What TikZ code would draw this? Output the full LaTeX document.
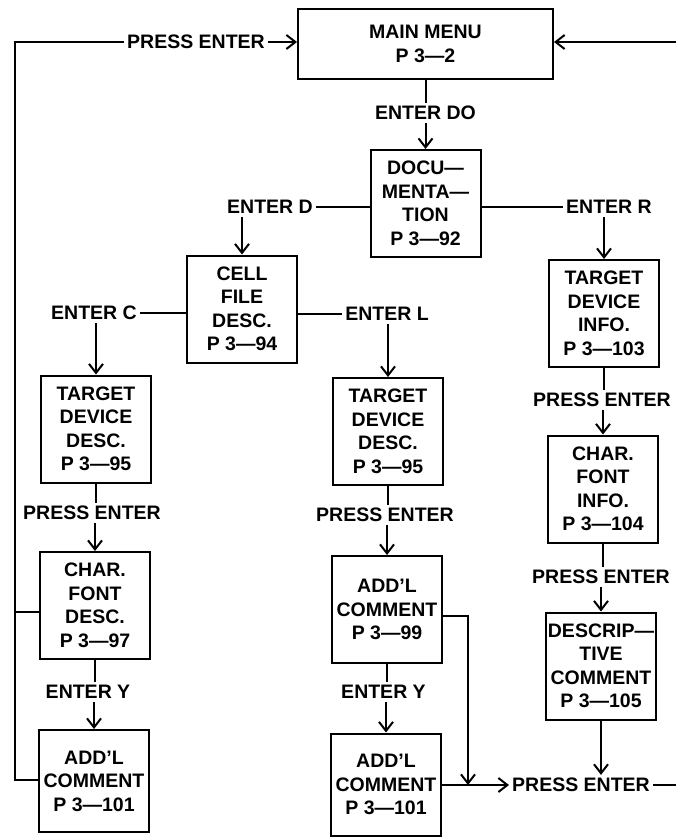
\documentclass[tikz,border=0pt]{standalone}
\usepackage{fontspec}
\setmainfont{Liberation Sans}
\usetikzlibrary{arrows.meta,positioning}
\newcommand\flfont{\bfseries\fontsize{19.5}{23.5}\selectfont}
\tikzset{
  fl box/.style={
    draw,
    line width=2pt,
    align=center,
    font=\flfont,
    minimum width=110pt,
    minimum height=107pt,
    inner sep=1pt
  },
  fl short/.style={fl box, minimum height=102pt},
  fl label/.style={font=\flfont, inner sep=3pt},
  fl line/.style={line width=2pt},
  fl arrow/.style={
    fl line,
    -{Straight Barb[length=9pt,width=14pt]}
  }
}

\begin{document}
\begin{tikzpicture}[x=1pt,y=-1pt]
  \useasboundingbox (0,0) rectangle (676,837);
  \coordinate (lt) at (15,42);
  \coordinate (lm) at (15,612);
  \coordinate (lb) at (15,780);
  \coordinate (rt) at (676,42);
  \coordinate (rb) at (676,785);
  \coordinate (jt) at (468,616);
  \coordinate (jn) at (468,785);

  % boxes
  \node[fl box, minimum width=255pt, minimum height=70pt] (menu) at (425.5,44) {MAIN MENU\\P 3---2};
  \node[fl box] (doc) at (425.5,203.5) {DOCU---\\MENTA---\\TION\\P 3---92};
  \node[fl box] (cell) at (242,309) {CELL\\FILE\\DESC.\\P 3---94};
  \node[fl box] (tddc) at (96,429) {TARGET\\DEVICE\\DESC.\\P 3---95};
  \node[fl box] (cfd) at (95,605.5) {CHAR.\\FONT\\DESC.\\P 3---97};
  \node[fl short] (addc) at (94,781) {ADD'L\\COMMENT\\P 3---101};
  \node[fl box] (tddl) at (388,431.5) {TARGET\\DEVICE\\DESC.\\P 3---95};
  \node[fl box] (addl) at (387,609.5) {ADD'L\\COMMENT\\P 3---99};
  \node[fl short] (addy) at (386,784.5) {ADD'L\\COMMENT\\P 3---101};
  \node[fl box] (tdi) at (604,313.5) {TARGET\\DEVICE\\INFO.\\P 3---103};
  \node[fl box] (cfi) at (603,489) {CHAR.\\FONT\\INFO.\\P 3---104};
  \node[fl box] (desc) at (601,666) {DESCRIP---\\TIVE\\COMMENT\\P 3---105};

  % labels
  \node[fl label] (do) at (425.5,113) {ENTER DO};
  \node[fl label] (ed) at (270,207) {ENTER D};
  \node[fl label] (er) at (609,207) {ENTER R};
  \node[fl label] (ec) at (94,313) {ENTER C};
  \node[fl label] (el) at (387,314) {ENTER L};
  \node[fl label] (pec) at (92,513) {PRESS ENTER};
  \node[fl label] (eyc) at (88,692) {ENTER Y};
  \node[fl label] (pel) at (385,515) {PRESS ENTER};
  \node[fl label] (eyl) at (383.5,692) {ENTER Y};
  \node[fl label] (per) at (602,400) {PRESS ENTER};
  \node[fl label] (pes) at (601,577) {PRESS ENTER};
  \node[fl label] (pet) at (196,42) {PRESS ENTER};
  \node[fl label] (peb) at (581,785) {PRESS ENTER};

  % connectors
  \draw[fl line] (menu) -- (do);
  \draw[fl arrow] (do) -- (doc);
  \draw[fl line] (doc.west |- ed) -- (ed);
  \draw[fl arrow] (ed.south -| cell) -- (cell);
  \draw[fl line] (doc.east |- er) -- (er);
  \draw[fl arrow] (er.south -| tdi) -- (tdi);
  \draw[fl line] (cell.west |- ec) -- (ec);
  \draw[fl arrow] (ec.south -| tddc) -- (tddc);
  \draw[fl line] (cell.east |- el) -- (el);
  \draw[fl arrow] (el.south -| tddl) -- (tddl);
  \draw[fl line] (tddc) -- (tddc |- pec.north);
  \draw[fl arrow] (pec.south -| cfd) -- (cfd);
  \draw[fl line] (cfd) -- (cfd |- eyc.north);
  \draw[fl arrow] (eyc.south -| addc) -- (addc);
  \draw[fl line] (tddl) -- (tddl |- pel.north);
  \draw[fl arrow] (pel.south -| addl) -- (addl);
  \draw[fl line] (addl) -- (addl |- eyl.north);
  \draw[fl arrow] (eyl.south -| addy) -- (addy);
  \draw[fl line] (tdi) -- (tdi |- per.north);
  \draw[fl arrow] (per.south -| cfi) -- (cfi);
  \draw[fl line] (cfi) -- (cfi |- pes.north);
  \draw[fl arrow] (pes.south -| desc) -- (desc);
  \draw[fl arrow] (desc) -- (desc |- peb.north);
  \draw[fl arrow] (addl.east |- jt) -- (jt) -- (jn);
  \draw[fl arrow] (addy.east |- peb) -- (peb);
  \draw[fl line] (peb) -- (rb);
  \draw[fl line] (addc.west |- lb) -- (lb) -- (lt) -- (pet);
  \draw[fl line] (cfd.west |- lm) -- (lm);
  \draw[fl arrow] (pet) -- (menu.west |- pet);
  \draw[fl arrow] (rt) -- (menu.east |- rt);
\end{tikzpicture}
\end{document}
